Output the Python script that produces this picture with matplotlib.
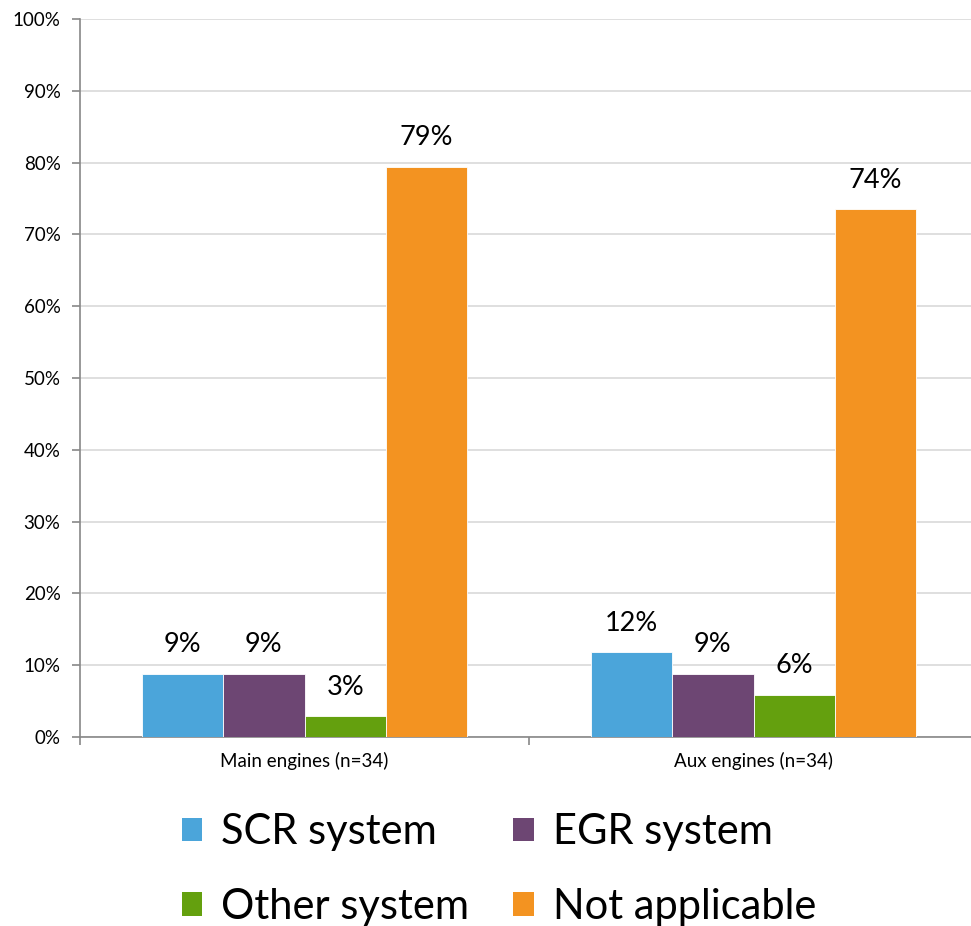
import matplotlib
matplotlib.use("Agg")
import matplotlib.pyplot as plt
import numpy as np
from matplotlib.patches import Patch

plt.rcParams['font.family'] = ['Lato', 'DejaVu Sans']

categories = ["Main engines (n=34)", "Aux engines (n=34)"]
series = ["SCR system", "EGR system", "Other system", "Not applicable"]
# share of respondents (%), 34 answers per engine type
scr = [8.8, 11.8]
egr = [8.8, 8.8]
other = [2.9, 5.9]
not_applicable = [79.4, 73.5]
values = [scr, egr, other, not_applicable]
colors = ["#4BA5DA", "#6D4673", "#64A00E", "#F39321"]
yticks = list(range(0, 101, 10))

fig = plt.figure(figsize=(9.71, 9.26), dpi=100)
ax = fig.add_axes([80 / 971, 1 - 737 / 926, 898 / 971, 718 / 926])

x = np.arange(len(categories))
bw = 0.1815
offsets = (np.arange(len(series)) - 1.5) * bw
for vals, off, col in zip(values, offsets, colors):
    bars = ax.bar(x + off, vals, width=bw, color=col, edgecolor="white", linewidth=0.6, zorder=3)
    for b, v in zip(bars, vals):
        ax.annotate(f"{v:.0f}%", (b.get_x() + b.get_width() / 2, v),
                    xytext=(0, 12), textcoords="offset points",
                    ha="center", va="bottom", fontsize=19.5, color="black")

ax.set_xlim(-0.5, 1.5)
ax.set_ylim(0, 100)
ax.set_yticks(yticks)
ax.set_yticklabels([f"{t}%" for t in yticks], fontsize=13.5)
ax.yaxis.grid(True, color="#D9D9D9", linewidth=1.2, zorder=0)
ax.set_axisbelow(True)

ax.set_xticks(x)
ax.set_xticklabels(categories, fontsize=13.5)
ax.tick_params(axis="x", length=0, pad=11)
ax.set_xticks([-0.5, 0.5, 1.5], minor=True)
ax.tick_params(axis="x", which="minor", length=6, color="#888888", width=1.2)
ax.tick_params(axis="y", length=6, color="#888888", width=1.2, pad=8)

for s in ["top", "right"]:
    ax.spines[s].set_visible(False)
for s in ["left", "bottom"]:
    ax.spines[s].set_color("#888888")
    ax.spines[s].set_linewidth(1.2)

# legend fills column-wise, so order entries to read row by row
order = [0, 2, 1, 3]
handles = [Patch(facecolor=colors[i], edgecolor="none") for i in order]
labels = [series[i] for i in order]
fig.legend(handles, labels, loc="lower left", bbox_to_anchor=(144 / 971, -0.04),
           ncol=2, frameon=False, fontsize=30, handlelength=0.5, handleheight=0.5,
           handletextpad=0.45, columnspacing=1.05, labelspacing=0.87)

fig.savefig("out.png", dpi=100)
